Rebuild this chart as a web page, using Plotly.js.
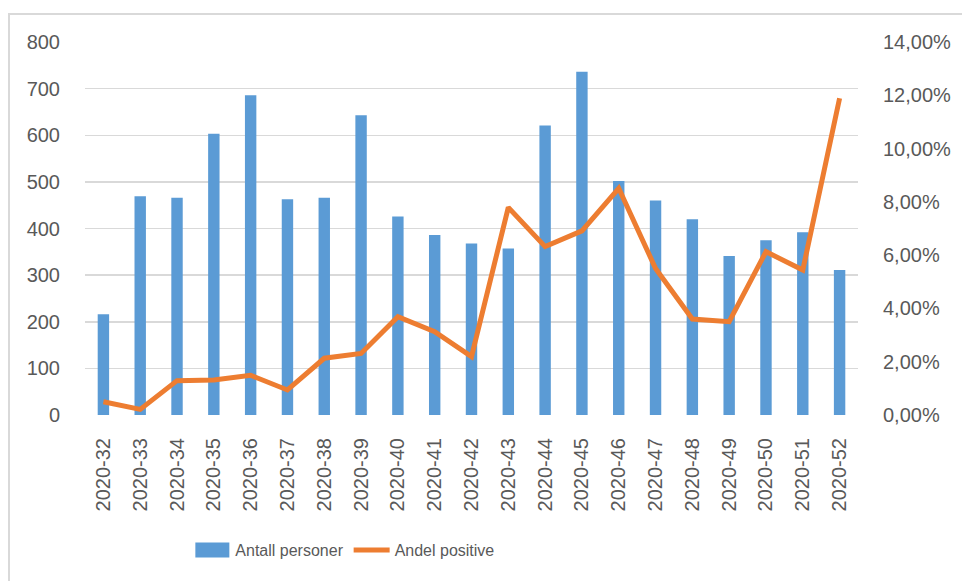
<!DOCTYPE html>
<html>
<head>
<meta charset="utf-8">
<script src="https://cdn.plot.ly/plotly-3.0.1.min.js"></script>
<style>
  html, body { margin: 0; padding: 0; background: #fff; }
  #wrap { position: relative; width: 962px; height: 581px; overflow: hidden; }
  #frame { position: absolute; left: 8px; top: 13px; width: 1000px; height: 600px;
           border-left: 2px solid #d9d9d9; border-top: 2px solid #d9d9d9; box-sizing: border-box; }
  #chart { position: absolute; left: 0; top: 0; width: 962px; height: 581px; }
</style>
</head>
<body>
<div id="wrap">
  <div id="frame"></div>
  <div id="chart"></div>
</div>
<script>
const weeks = ["2020-32","2020-33","2020-34","2020-35","2020-36","2020-37","2020-38","2020-39","2020-40","2020-41","2020-42",
               "2020-43","2020-44","2020-45","2020-46","2020-47","2020-48","2020-49","2020-50","2020-51","2020-52"];
const antallPersoner = [216, 469, 466, 603, 686, 463, 466, 643, 426, 386, 368,
                        357, 621, 736, 502, 460, 420, 341, 375, 392, 311];
const andelPositive = [0.0050, 0.0021, 0.0129, 0.0131, 0.0149, 0.0094, 0.0213, 0.0231, 0.0369, 0.0313, 0.0219,
                       0.0779, 0.0632, 0.0691, 0.0851, 0.0550, 0.0360, 0.0350, 0.0613, 0.0544, 0.1189];
const leftTicks = [0, 100, 200, 300, 400, 500, 600, 700, 800];

const fontFam = '"Liberation Sans", Arial, sans-serif';
const grey = '#595959';

const traces = [
  { type: 'bar', name: 'Antall personer', x: weeks, y: antallPersoner,
    marker: { color: '#5B9BD5' }, yaxis: 'y' },
  { type: 'scatter', mode: 'lines', name: 'Andel positive', x: weeks, y: andelPositive,
    line: { color: '#ED7D31', width: 5 }, yaxis: 'y2' }
];

const layout = {
  width: 962, height: 581,
  margin: { l: 85, r: 104, t: 42, b: 166 },
  paper_bgcolor: 'rgba(0,0,0,0)', plot_bgcolor: 'rgba(0,0,0,0)',
  separators: ', ',
  bargap: 0.69,
  showlegend: true,
  font: { family: fontFam, color: grey },
  xaxis: {
    type: 'category', tickangle: -90,
    tickfont: { size: 20, color: grey },
    ticks: 'outside', ticklen: 14, tickcolor: 'rgba(0,0,0,0)',
    showgrid: false, showline: false, zeroline: false
  },
  yaxis: {
    range: [0, 800], tickvals: leftTicks,
    tickfont: { size: 20, color: grey },
    ticks: 'outside', ticklen: 20, tickcolor: 'rgba(0,0,0,0)',
    showgrid: true, gridcolor: '#d9d9d9', gridwidth: 1.5,
    zeroline: false, showline: false
  },
  yaxis2: {
    overlaying: 'y', side: 'right', range: [0, 0.14], dtick: 0.02, tick0: 0,
    tickformat: '.2%',
    tickfont: { size: 20, color: grey },
    ticks: 'outside', ticklen: 20, tickcolor: 'rgba(0,0,0,0)',
    showgrid: false, zeroline: false, showline: false
  },
  legend: {
    orientation: 'h', x: 0.135, xanchor: 'left', y: -0.362, yanchor: 'middle',
    font: { size: 16, color: grey }, itemwidth: 36, traceorder: 'normal',
    bgcolor: 'rgba(0,0,0,0)'
  }
};

Plotly.newPlot('chart', traces, layout, { displayModeBar: false, staticPlot: true }).then(function (gd) {
  // widen the bar legend swatch to a rectangle like the original
  const items = gd.querySelectorAll('.legend .traces');
  if (items.length) {
    const p = items[0].querySelector('.legendpoints path');
    if (p) p.setAttribute('d', 'M17,7.5H-17V-7.5H17Z');
  }
});
</script>
</body>
</html>
